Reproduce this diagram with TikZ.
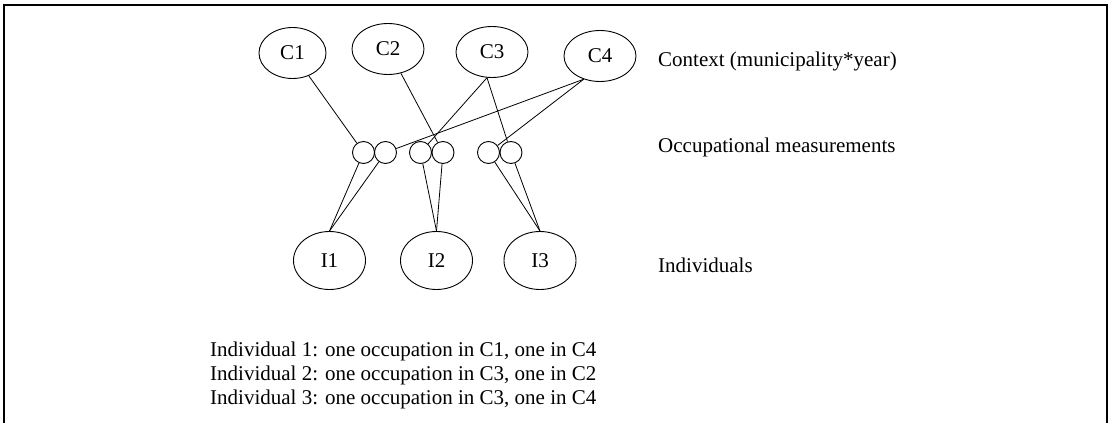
\documentclass[tikz,border=0pt]{standalone}
\usepackage{fontspec}
\setmainfont{Liberation Serif}
\usetikzlibrary{shapes.geometric}
\begin{document}
\begin{tikzpicture}[x=1pt,y=-1pt,
  ctx/.style={draw,ellipse,line width=0.9pt,inner sep=0pt,minimum width=72pt,minimum height=51pt,font=\fontsize{21}{24}\selectfont},
  ind/.style={draw,ellipse,line width=0.9pt,inner sep=0pt,minimum width=72pt,minimum height=58pt,font=\fontsize{21}{24}\selectfont},
  occ/.style={draw,circle,line width=0.9pt,inner sep=0pt,minimum size=22pt},
  lab/.style={anchor=base west,inner sep=0pt,font=\fontsize{21}{24}\selectfont},
  conn/.style={line width=0.8pt}]
\useasboundingbox (0,0) rectangle (1109,423);
\draw[line width=2.6pt] (4,425) -- (4,5) -- (1107,5) -- (1107,425);
% context nodes
\node[ctx,minimum width=67pt] (C1) at (292.5,53) {C1};
\node[ctx] (C2) at (388,49) {C2};
\node[ctx] (C3) at (492,52) {C3};
\node[ctx] (C4) at (600,56) {C4};
% occupational measurement circles
\node[occ] (o1) at (363.5,152.5) {};
\node[occ] (o2) at (385.5,152.5) {};
\node[occ] (o3) at (420.5,152.5) {};
\node[occ] (o4) at (443,152.5) {};
\node[occ] (o5) at (488.5,152.5) {};
\node[occ] (o6) at (511,152.5) {};
% individuals
\node[ind] (I1) at (329.5,260.5) {I1};
\node[ind] (I2) at (436.5,260.5) {I2};
\node[ind] (I3) at (540,260.5) {I3};
% connectors
\draw[conn] (C1) -- (o1);
\draw[conn] (C4.235) -- (o2);
\draw[conn] (C3.259) -- (o3);
\draw[conn] (C2) -- (o4);
\draw[conn] (C4.235) -- (o5);
\draw[conn] (C3.259) -- (o6);
\draw[conn] (o1) -- (I1.north);
\draw[conn] (o2) -- (I1.north);
\draw[conn] (o3) -- (I2.north);
\draw[conn] (o4) -- (I2.north);
\draw[conn] (o5) -- (I3.north);
\draw[conn] (o6) -- (I3.north);
% labels
\node[lab] (lctx) at (658,66) {Context (municipality*year)};
\node[lab] (locc) at (658,152) {Occupational measurements};
\node[lab] (lind) at (658,272) {Individuals};
\node[lab] (t1) at (210,356) {Individual 1: one occupation in C1, one in C4};
\node[lab] (t2) at (210,380) {Individual 2: one occupation in C3, one in C2};
\node[lab] (t3) at (210,404) {Individual 3: one occupation in C3, one in C4};
\end{tikzpicture}
\end{document}
